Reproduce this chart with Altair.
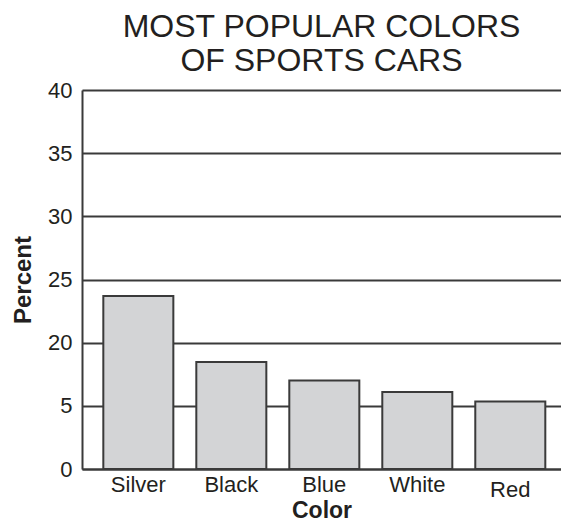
import altair as alt
import pandas as pd

colors = ["Silver", "Black", "Blue", "White", "Red"]
percent = [23.7, 15.4, 11.0, 8.3, 6.0]
y_ticks = [0, 5, 20, 25, 30, 35, 40]
title_lines = ["MOST POPULAR COLORS", "OF SPORTS CARS"]

df = pd.DataFrame({"Color": colors, "Percent": percent})

FONT = "Liberation Sans"
INK = "#231f20"
LINE = "#3a3a3a"

H = 379
W = 479
step = H / 6.0

chart = alt.Chart(df).mark_bar(
    fill="#d3d4d6", stroke=LINE, strokeWidth=2
).encode(
    x=alt.X(
        "Color:N",
        sort=colors,
        title="Color",
        scale=alt.Scale(paddingInner=0.247, paddingOuter=0.199, align=0.576),
        axis=alt.Axis(
            labelAngle=0, ticks=False, domain=True, domainColor=LINE, domainWidth=2,
            labelFont=FONT, labelFontSize=22, labelColor=INK,
            labelPadding={"condition": {"test": "datum.value == 'Red'", "value": 10}, "value": 5},
            titleFont=FONT, titleFontSize=23, titleFontWeight="bold", titleColor=INK,
            titlePadding=-1, grid=False,
        ),
    ),
    y=alt.Y(
        "Percent:Q",
        title="Percent",
        scale=alt.Scale(domain=[0, 5, 20, 40], range=[H, H - step, H - 2 * step, 0], nice=False, zero=False),
        axis=alt.Axis(
            values=y_ticks, ticks=False, domain=True, domainColor=LINE, domainWidth=2,
            grid=True, gridColor=LINE, gridWidth=2, gridOpacity=1,
            labelFont=FONT, labelFontSize=22, labelColor=INK, labelPadding=10,
            titleFont=FONT, titleFontSize=24, titleFontWeight="bold", titleColor=INK,
            titlePadding=12,
        ),
    ),
).properties(
    width=W,
    height=H,
    title=alt.Title(
        title_lines, fontSize=32, fontWeight="normal", font=FONT, color=INK,
        lineHeight=34, anchor="middle", offset=1,
    ),
    autosize=alt.AutoSizeParams(type="none"),
    padding={"left": 82, "top": 90, "right": 0, "bottom": 56},
).configure_view(stroke=None).configure(background="white")

chart.save("out.html", embed_options={"renderer": "svg", "actions": False})
